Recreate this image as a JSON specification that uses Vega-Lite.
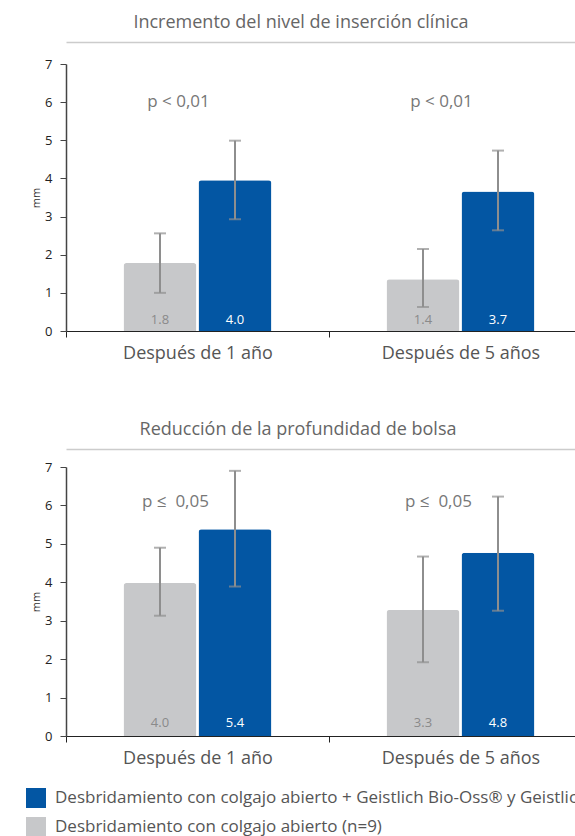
{
  "$schema": "https://vega.github.io/schema/vega-lite/v6.json",
  "background": "white",
  "padding": {"left": 26, "right": 0, "top": 14, "bottom": 0},
  "datasets": {
    "barras1": [
      {"periodo": "Después de 1 año", "grupo": "Desbridamiento con colgajo abierto (n=9)", "valor": 1.78, "etiqueta": "1.8", "bajo": 1.0, "alto": 2.56},
      {"periodo": "Después de 1 año", "grupo": "Desbridamiento con colgajo abierto + Geistlich Bio-Oss® y Geistlich Bio-Gide®", "valor": 3.95, "etiqueta": "4.0", "bajo": 2.93, "alto": 4.99},
      {"periodo": "Después de 5 años", "grupo": "Desbridamiento con colgajo abierto (n=9)", "valor": 1.36, "etiqueta": "1.4", "bajo": 0.63, "alto": 2.15},
      {"periodo": "Después de 5 años", "grupo": "Desbridamiento con colgajo abierto + Geistlich Bio-Oss® y Geistlich Bio-Gide®", "valor": 3.66, "etiqueta": "3.7", "bajo": 2.64, "alto": 4.73}
    ],
    "barras2": [
      {"periodo": "Después de 1 año", "grupo": "Desbridamiento con colgajo abierto (n=9)", "valor": 3.98, "etiqueta": "4.0", "bajo": 3.13, "alto": 4.9},
      {"periodo": "Después de 1 año", "grupo": "Desbridamiento con colgajo abierto + Geistlich Bio-Oss® y Geistlich Bio-Gide®", "valor": 5.38, "etiqueta": "5.4", "bajo": 3.89, "alto": 6.9},
      {"periodo": "Después de 5 años", "grupo": "Desbridamiento con colgajo abierto (n=9)", "valor": 3.28, "etiqueta": "3.3", "bajo": 1.92, "alto": 4.67},
      {"periodo": "Después de 5 años", "grupo": "Desbridamiento con colgajo abierto + Geistlich Bio-Oss® y Geistlich Bio-Gide®", "valor": 4.77, "etiqueta": "4.8", "bajo": 3.26, "alto": 6.23}
    ],
    "p1": [
      {"periodo": "Después de 1 año", "texto": "p < 0,01", "nivel": 6},
      {"periodo": "Después de 5 años", "texto": "p < 0,01", "nivel": 6}
    ],
    "p2": [
      {"periodo": "Después de 1 año", "texto": "p ≤ \u00a00,05", "nivel": 6.1},
      {"periodo": "Después de 5 años", "texto": "p ≤ \u00a00,05", "nivel": 6.1}
    ]
  },
  "vconcat": [
    {
      "width": 526,
      "height": 267,
      "title": {"text": "Incremento del nivel de inserción clínica", "dx": -28, "offset": 10},
      "resolve": {"axis": {"x": "independent"}},
      "layer": [
        {
          "data": {"name": "barras1"},
          "mark": {"type": "bar", "cornerRadiusTopLeft": 3, "cornerRadiusTopRight": 3},
          "encoding": {
            "x": {"field": "periodo", "type": "nominal", "scale": {"domain": ["Después de 1 año", "Después de 5 años"], "paddingInner": 0, "paddingOuter": 0},
                  "axis": {"orient": "bottom", "title": null, "tickBand": "extent", "labelAngle": 0, "labelFontSize": 18, "labelColor": "#555", "labelPadding": 7, "tickSize": 6, "domainColor": "#222", "tickColor": "#222"}},
            "xOffset": {"field": "grupo", "type": "nominal", "scale": {"domain": ["Desbridamiento con colgajo abierto (n=9)", "Desbridamiento con colgajo abierto + Geistlich Bio-Oss® y Geistlich Bio-Gide®"], "paddingInner": 0.027, "paddingOuter": 0.767}},
            "y": {"field": "valor", "type": "quantitative", "scale": {"domain": [0, 7]}, "axis": {"title": "mm", "values": [0, 1, 2, 3, 4, 5, 6, 7], "grid": false}},
            "color": {"field": "grupo", "type": "nominal", "scale": {"domain": ["Desbridamiento con colgajo abierto + Geistlich Bio-Oss® y Geistlich Bio-Gide®", "Desbridamiento con colgajo abierto (n=9)"], "range": ["#0356a3", "#c7c8ca"]}}
          }
        },
        {
          "data": {"name": "barras1"},
          "mark": {"type": "rule", "color": "#8e8e8e", "strokeWidth": 2},
          "encoding": {
            "x": {"field": "periodo", "type": "nominal", "axis": {"orient": "top", "offset": 22, "title": null, "labels": false, "ticks": false, "domainColor": "#cccccc", "domainWidth": 1.5}},
            "xOffset": {"field": "grupo", "type": "nominal"},
            "y": {"field": "bajo", "type": "quantitative", "axis": {"title": "mm", "values": [0, 1, 2, 3, 4, 5, 6, 7], "grid": false}},
            "y2": {"field": "alto"}
          }
        },
        {
          "data": {"name": "barras1"},
          "mark": {"type": "tick", "color": "#8e8e8e", "thickness": 2, "size": 12, "orient": "horizontal"},
          "encoding": {
            "x": {"field": "periodo", "type": "nominal", "axis": null},
            "xOffset": {"field": "grupo", "type": "nominal"},
            "y": {"field": "bajo", "type": "quantitative", "axis": {"title": "mm", "values": [0, 1, 2, 3, 4, 5, 6, 7], "grid": false}}
          }
        },
        {
          "data": {"name": "barras1"},
          "mark": {"type": "tick", "color": "#8e8e8e", "thickness": 2, "size": 12, "orient": "horizontal"},
          "encoding": {
            "x": {"field": "periodo", "type": "nominal", "axis": null},
            "xOffset": {"field": "grupo", "type": "nominal"},
            "y": {"field": "alto", "type": "quantitative", "axis": {"title": "mm", "values": [0, 1, 2, 3, 4, 5, 6, 7], "grid": false}}
          }
        },
        {
          "data": {"name": "barras1"},
          "transform": [{"filter": "datum.grupo === 'Desbridamiento con colgajo abierto (n=9)'"}],
          "mark": {"type": "text", "color": "#8a8a8a", "fontSize": 13, "baseline": "middle", "dy": -11},
          "encoding": {
            "x": {"field": "periodo", "type": "nominal", "axis": null},
            "xOffset": {"field": "grupo", "type": "nominal"},
            "y": {"datum": 0, "axis": {"title": "mm", "values": [0, 1, 2, 3, 4, 5, 6, 7], "grid": false}},
            "text": {"field": "etiqueta"}
          }
        },
        {
          "data": {"name": "barras1"},
          "transform": [{"filter": "datum.grupo !== 'Desbridamiento con colgajo abierto (n=9)'"}],
          "mark": {"type": "text", "color": "#ffffff", "fontSize": 13, "baseline": "middle", "dy": -11},
          "encoding": {
            "x": {"field": "periodo", "type": "nominal", "axis": null},
            "xOffset": {"field": "grupo", "type": "nominal"},
            "y": {"datum": 0, "axis": {"title": "mm", "values": [0, 1, 2, 3, 4, 5, 6, 7], "grid": false}},
            "text": {"field": "etiqueta"}
          }
        },
        {
          "data": {"name": "p1"},
          "mark": {"type": "text", "color": "#777777", "fontSize": 17, "baseline": "middle", "dx": -19},
          "encoding": {
            "x": {"field": "periodo", "type": "nominal", "axis": null},
            "y": {"field": "nivel", "type": "quantitative", "axis": {"title": "mm", "values": [0, 1, 2, 3, 4, 5, 6, 7], "grid": false}},
            "text": {"field": "texto"}
          }
        }
      ]
    },
    {
      "width": 526,
      "height": 269,
      "title": {"text": "Reducción de la profundidad de bolsa", "dx": -31, "offset": 10},
      "resolve": {"axis": {"x": "independent"}},
      "layer": [
        {
          "data": {"name": "barras2"},
          "mark": {"type": "bar", "cornerRadiusTopLeft": 3, "cornerRadiusTopRight": 3},
          "encoding": {
            "x": {"field": "periodo", "type": "nominal", "scale": {"domain": ["Después de 1 año", "Después de 5 años"], "paddingInner": 0, "paddingOuter": 0},
                  "axis": {"orient": "bottom", "title": null, "tickBand": "extent", "labelAngle": 0, "labelFontSize": 18, "labelColor": "#555", "labelPadding": 7, "tickSize": 6, "domainColor": "#222", "tickColor": "#222"}},
            "xOffset": {"field": "grupo", "type": "nominal", "scale": {"domain": ["Desbridamiento con colgajo abierto (n=9)", "Desbridamiento con colgajo abierto + Geistlich Bio-Oss® y Geistlich Bio-Gide®"], "paddingInner": 0.027, "paddingOuter": 0.767}},
            "y": {"field": "valor", "type": "quantitative", "scale": {"domain": [0, 7]}, "axis": {"title": "mm", "values": [0, 1, 2, 3, 4, 5, 6, 7], "grid": false}},
            "color": {"field": "grupo", "type": "nominal", "scale": {"domain": ["Desbridamiento con colgajo abierto + Geistlich Bio-Oss® y Geistlich Bio-Gide®", "Desbridamiento con colgajo abierto (n=9)"], "range": ["#0356a3", "#c7c8ca"]}}
          }
        },
        {
          "data": {"name": "barras2"},
          "mark": {"type": "rule", "color": "#8e8e8e", "strokeWidth": 2},
          "encoding": {
            "x": {"field": "periodo", "type": "nominal", "axis": {"orient": "top", "offset": 18, "title": null, "labels": false, "ticks": false, "domainColor": "#cccccc", "domainWidth": 1.5}},
            "xOffset": {"field": "grupo", "type": "nominal"},
            "y": {"field": "bajo", "type": "quantitative", "axis": {"title": "mm", "values": [0, 1, 2, 3, 4, 5, 6, 7], "grid": false}},
            "y2": {"field": "alto"}
          }
        },
        {
          "data": {"name": "barras2"},
          "mark": {"type": "tick", "color": "#8e8e8e", "thickness": 2, "size": 12, "orient": "horizontal"},
          "encoding": {
            "x": {"field": "periodo", "type": "nominal", "axis": null},
            "xOffset": {"field": "grupo", "type": "nominal"},
            "y": {"field": "bajo", "type": "quantitative", "axis": {"title": "mm", "values": [0, 1, 2, 3, 4, 5, 6, 7], "grid": false}}
          }
        },
        {
          "data": {"name": "barras2"},
          "mark": {"type": "tick", "color": "#8e8e8e", "thickness": 2, "size": 12, "orient": "horizontal"},
          "encoding": {
            "x": {"field": "periodo", "type": "nominal", "axis": null},
            "xOffset": {"field": "grupo", "type": "nominal"},
            "y": {"field": "alto", "type": "quantitative", "axis": {"title": "mm", "values": [0, 1, 2, 3, 4, 5, 6, 7], "grid": false}}
          }
        },
        {
          "data": {"name": "barras2"},
          "transform": [{"filter": "datum.grupo === 'Desbridamiento con colgajo abierto (n=9)'"}],
          "mark": {"type": "text", "color": "#8a8a8a", "fontSize": 13, "baseline": "middle", "dy": -13},
          "encoding": {
            "x": {"field": "periodo", "type": "nominal", "axis": null},
            "xOffset": {"field": "grupo", "type": "nominal"},
            "y": {"datum": 0, "axis": {"title": "mm", "values": [0, 1, 2, 3, 4, 5, 6, 7], "grid": false}},
            "text": {"field": "etiqueta"}
          }
        },
        {
          "data": {"name": "barras2"},
          "transform": [{"filter": "datum.grupo !== 'Desbridamiento con colgajo abierto (n=9)'"}],
          "mark": {"type": "text", "color": "#ffffff", "fontSize": 13, "baseline": "middle", "dy": -13},
          "encoding": {
            "x": {"field": "periodo", "type": "nominal", "axis": null},
            "xOffset": {"field": "grupo", "type": "nominal"},
            "y": {"datum": 0, "axis": {"title": "mm", "values": [0, 1, 2, 3, 4, 5, 6, 7], "grid": false}},
            "text": {"field": "etiqueta"}
          }
        },
        {
          "data": {"name": "p2"},
          "mark": {"type": "text", "color": "#777777", "fontSize": 17, "baseline": "middle", "dx": -22},
          "encoding": {
            "x": {"field": "periodo", "type": "nominal", "axis": null},
            "y": {"field": "nivel", "type": "quantitative", "axis": {"title": "mm", "values": [0, 1, 2, 3, 4, 5, 6, 7], "grid": false}},
            "text": {"field": "texto"}
          }
        }
      ]
    }
  ],
  "spacing": 59,
  "config": {
    "font": "Open Sans",
    "view": {"stroke": null},
    "title": {"fontSize": 18, "fontWeight": "normal", "color": "#666666", "anchor": "middle"},
    "axisY": {"domainColor": "#444444", "domainWidth": 1.5, "tickColor": "#444444", "tickSize": 6, "labelFontSize": 13, "labelColor": "#222222", "labelPadding": 8, "titleFontSize": 11, "titleFontWeight": "normal", "titleColor": "#333333", "titlePadding": 3},
    "legend": {"orient": "none", "legendX": -40, "legendY": 724, "direction": "vertical", "title": null, "symbolType": "square", "symbolSize": 400, "symbolStrokeWidth": 0, "labelFontSize": 17, "labelColor": "#555555", "labelLimit": 1000, "rowPadding": 9, "labelOffset": 9}
  }
}
